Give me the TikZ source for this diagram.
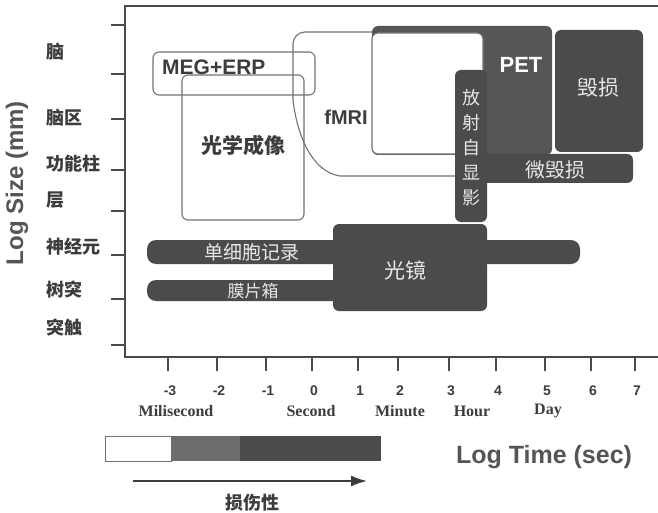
\documentclass[tikz,border=0pt]{standalone}
\usepackage{fontspec}
\setmainfont{Liberation Serif}
\setsansfont{Liberation Sans}
\newfontfamily\cjk{Noto Sans CJK SC}
\usetikzlibrary{arrows.meta}
\definecolor{inkgray}{HTML}{3C3C3C}
\definecolor{axisgray}{HTML}{4A4A4A}
\definecolor{linegray}{HTML}{727272}
\definecolor{boxdark}{HTML}{4B4B4B}
\definecolor{petgray}{HTML}{565656}
\definecolor{midgray}{HTML}{6C6C6C}
\definecolor{textlight}{HTML}{E8E8E8}
\definecolor{titlegray}{HTML}{555555}

\begin{document}
\begin{tikzpicture}[
  x=1pt, y=-1pt,
  axis/.style={draw=axisgray,line width=2pt},
  outbox/.style={draw=linegray,line width=1.1pt,rounded corners=6pt,inner sep=0pt},
  darkbox/.style={fill=boxdark,rounded corners=6pt,inner sep=0pt},
  barbox/.style={fill=boxdark,rounded corners=9pt,inner sep=0pt},
  darktext/.style={text=textlight,inner sep=0pt,font=\cjk\fontsize{20}{25}\selectfont},
  boxtext/.style={text=inkgray,inner sep=0pt,font=\sffamily\bfseries\fontsize{20}{24}\selectfont},
  sizelab/.style={text=inkgray,inner sep=0pt,anchor=west,font=\cjk\bfseries\fontsize{18}{20}\selectfont},
  ticklab/.style={text=inkgray,inner sep=0pt,font=\sffamily\bfseries\fontsize{14}{16}\selectfont},
  unitlab/.style={text=inkgray,inner sep=0pt,font=\rmfamily\bfseries\fontsize{16}{18}\selectfont},
  arrow/.style={-{Latex[length=16pt,width=11pt]},draw=inkgray,line width=1.8pt}
]
\useasboundingbox (0,0) rectangle (658,513);

% frame and axes
\coordinate (frametr) at (658,6);
\coordinate (frametl) at (125,6);
\coordinate (framebl) at (125,357);
\coordinate (framebr) at (658,357);
\draw[axis] (frametr) -- (frametl) -- (framebl) -- (framebr);
\foreach \y in {25,74,119,170,211,255,299,345}
  \draw[axis] (111,\y) -- (125,\y);
\foreach \x/\n in {168/-3,217/-2,266/-1,312/0,358/1,398/2,449/3,496/4,545/5,591/6,635/7}{
  \draw[axis] (\x,357) -- (\x,371);
  \node[ticklab] at (\x+2,391) {\n};
}

% size labels
\foreach \y/\t in {52/脑,118/脑区,164/功能柱,200/层,247/神经元,290/树突,328/突触}
  \node[sizelab] at (46,\y) {\t};
\node[rotate=90,text=titlegray,font=\sffamily\bfseries\fontsize{24}{28}\selectfont] (sizetitle) at (17,183) {Log Size (mm)};

% open methods
\node[outbox,minimum width=162pt,minimum height=43pt] (meg) at (234,73.5) {};
\node[outbox,minimum width=122pt,minimum height=145pt] (optic) at (243,147.5) {};
\draw[linegray,line width=1.1pt] (400,32) -- (305,32) to[out=180,in=90] (293,44) -- (293,100)
  .. controls (297,135) and (312,172) .. (340,176) -- (460,176);

% dark methods
\node[darkbox,fill=petgray,minimum width=180pt,minimum height=129pt] (pet) at (462,90.5) {};
\node[outbox,fill=white,minimum width=111pt,minimum height=121pt] (fmribox) at (427.5,93.5) {};
\node[darkbox,minimum width=88pt,minimum height=122pt] (lesion) at (599,91) {};
\node[darkbox,minimum width=173pt,minimum height=29pt] (microlesion) at (546.5,168.5) {};
\node[darkbox,minimum width=32pt,minimum height=152pt] (autorad) at (471,146) {};
\node[barbox,minimum width=433pt,minimum height=24pt] (singlecell) at (363.5,252) {};
\node[barbox,minimum width=200pt,minimum height=21pt] (patch) at (247,290.5) {};
\node[darkbox,minimum width=154pt,minimum height=87pt] (lightmicro) at (410,267.5) {};

% method labels
\node[boxtext,anchor=west,font=\sffamily\bfseries\fontsize{21}{24}\selectfont] at (162,67) {MEG+ERP};
\node[text=inkgray,font=\cjk\bfseries\fontsize{21}{24}\selectfont] at (243,145) {光学成像};
\node[boxtext] at (346,117) {fMRI};
\node[boxtext,text=white,font=\sffamily\bfseries\fontsize{22}{24}\selectfont] at (521,65) {PET};
\node[darktext,font=\cjk\fontsize{21}{24}\selectfont] at (598,88) {毁损};
\node[darktext] at (555,170) {微毁损};
\node[darktext,align=center,font=\cjk\fontsize{18}{25}\selectfont] at (471,148) {放\\射\\自\\显\\影};
\node[darktext,font=\cjk\fontsize{19}{22}\selectfont] at (252,252) {单细胞记录};
\node[darktext,font=\cjk\fontsize{17}{20}\selectfont] at (253,291) {膜片箱};
\node[darktext,font=\cjk\fontsize{21}{24}\selectfont] at (405,270) {光镜};

% time units
\node[unitlab] at (176,411) {Milisecond};
\node[unitlab] at (311,411) {Second};
\node[unitlab] at (400,411) {Minute};
\node[unitlab] at (472,411) {Hour};
\node[unitlab] at (548,411) {Day};
\node[text=titlegray,font=\sffamily\bfseries\fontsize{25}{28}\selectfont] (timetitle) at (544,457) {Log Time (sec)};

% invasiveness scale
\node[draw=linegray,line width=1pt,fill=white,minimum width=66pt,minimum height=25pt,inner sep=0pt] (lowinv) at (138,448.5) {};
\node[fill=midgray,minimum width=69pt,minimum height=25pt,inner sep=0pt] (midinv) at (205.5,448.5) {};
\node[fill=boxdark,minimum width=141pt,minimum height=25pt,inner sep=0pt] (highinv) at (310.5,448.5) {};
\coordinate (arrowstart) at (133,481);
\coordinate (arrowend) at (367,481);
\draw[arrow] (arrowstart) -- (arrowend);
\node[text=inkgray,font=\cjk\bfseries\fontsize{18}{20}\selectfont] (invlabel) at (252,503) {损伤性};
\end{tikzpicture}
\end{document}
